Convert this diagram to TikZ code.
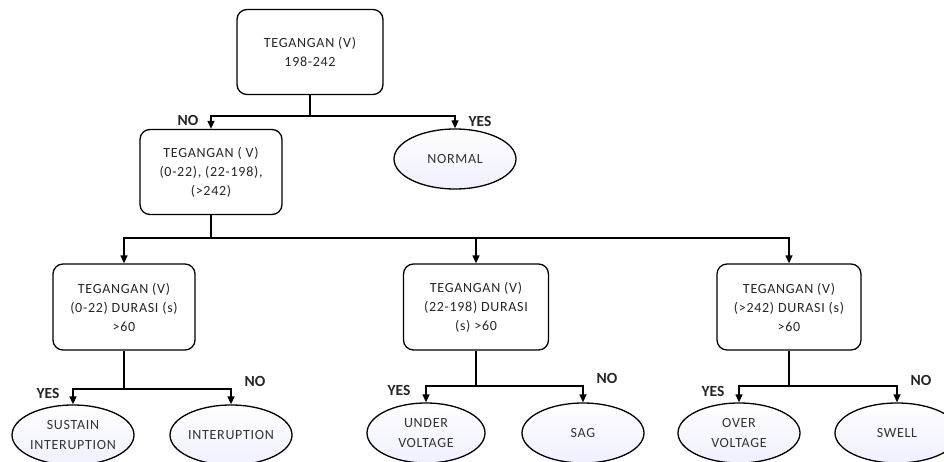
\documentclass[tikz,border=0pt]{standalone}
\usepackage{fontspec}
\setmainfont{Carlito}
\newfontfamily\boxfont[LetterSpace=5]{Carlito}
\usetikzlibrary{shapes.geometric,arrows.meta}
\begin{document}
\begin{tikzpicture}[x=1pt,y=-1pt,
  line width=1.3pt,
  box/.style={draw, rounded corners=10pt, align=center, text=black!85,
    font=\boxfont\fontsize{14}{19}\selectfont, inner sep=1pt},
  leaf/.style={draw, ellipse, align=center, text=black!80,
    top color=white, bottom color=blue!6,
    font=\boxfont\fontsize{14}{20}\selectfont, inner sep=0pt,
    minimum width=122pt, minimum height=60pt},
  lab/.style={font=\bfseries\fontsize{15.5}{17}\selectfont, text=black!85, inner sep=0pt},
  arr/.style={-{Triangle[length=8pt,width=7pt]}}]
\useasboundingbox (0,0) rectangle (944,462);

\node[box, minimum width=146pt, minimum height=85pt] (top) at (310,52) {TEGANGAN (V)\\198-242};
\node[box, minimum width=142pt, minimum height=85pt] (b2) at (211,172) {TEGANGAN ( V)\\(0-22), (22-198),\\(>242)};
\node[leaf] (normal) at (455,159) {NORMAL};

\node[box, minimum width=142pt, minimum height=86pt] (bl) at (124,307) {TEGANGAN (V)\\(0-22) DURASI (s)\\>60};
\node[box, minimum width=145pt, minimum height=86pt] (bm) at (476,307) {TEGANGAN (V)\\(22-198) DURASI\\(s) >60};
\node[box, minimum width=144pt, minimum height=86pt] (br) at (789,307) {TEGANGAN (V)\\(>242) DURASI (s)\\>60};

\node[leaf] (sus) at (73,435) {SUSTAIN\\INTERUPTION};
\node[leaf] (int) at (231,435) {INTERUPTION};
\node[leaf, minimum width=118pt] (uv) at (426,433) {UNDER\\VOLTAGE};
\node[leaf] (sag) at (583,433) {SAG};
\node[leaf] (ov) at (739,433) {OVER\\VOLTAGE};
\node[leaf, minimum width=124pt] (sw) at (897,433) {SWELL};

\coordinate (j1) at (310,116);
\coordinate (j2) at (211,238);
\coordinate (j3) at (124,389);
\coordinate (j4) at (476,386);
\coordinate (j5) at (789,386);

\draw (top) -- (j1);
\draw[arr] (j1) -| (b2);
\draw[arr] (j1) -| (normal);

\draw (b2) -- (j2);
\draw[arr] (j2) -| (bl);
\draw[arr] (j2) -| (bm);
\draw[arr] (j2) -| (br);

\draw (bl) -- (j3);
\draw[arr] (j3) -| (sus);
\draw[arr] (j3) -| (int);

\draw (bm) -- (j4);
\draw[arr] (j4) -| (uv);
\draw[arr] (j4) -| (sag);

\draw (br) -- (j5);
\draw[arr] (j5) -| (ov);
\draw[arr] (j5) -| (sw);

\node[lab] (l1) at (188,120) {NO};
\node[lab] (l2) at (480,121) {YES};
\node[lab] (l3) at (48,393) {YES};
\node[lab] (l4) at (255,381) {NO};
\node[lab] (l5) at (399,390) {YES};
\node[lab] (l6) at (607,378) {NO};
\node[lab] (l7) at (713,391) {YES};
\node[lab] (l8) at (921,380) {NO};
\end{tikzpicture}
\end{document}
